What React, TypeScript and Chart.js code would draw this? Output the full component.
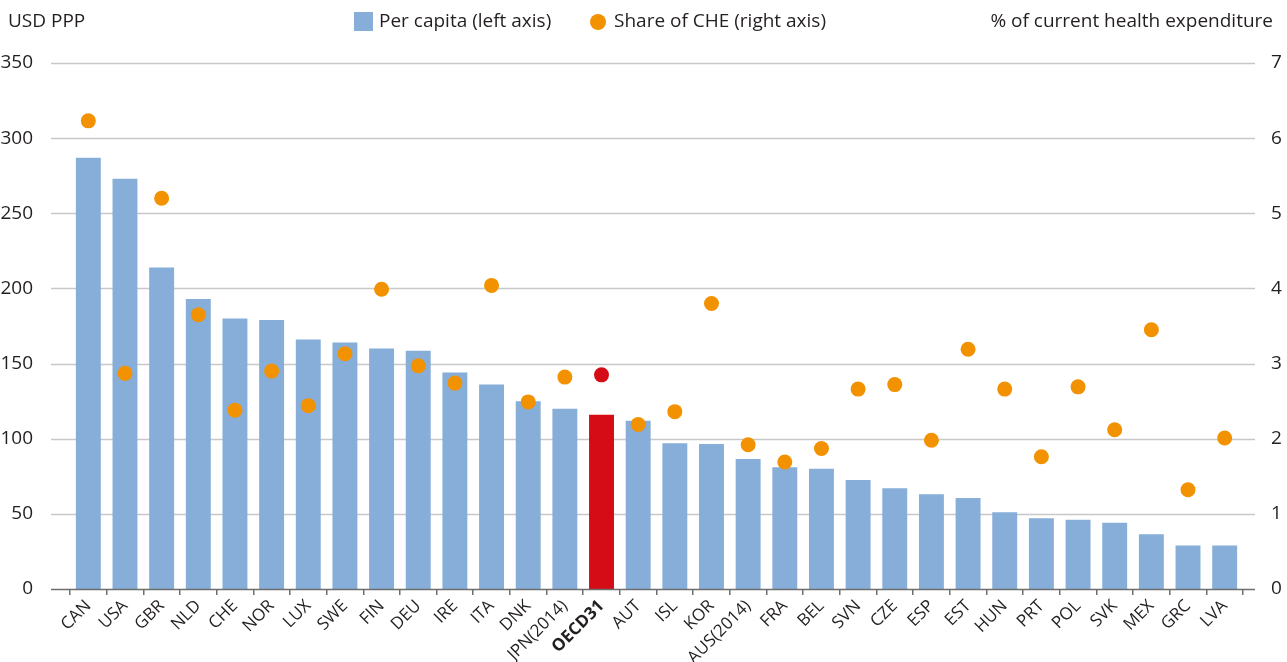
import React, { useEffect, useRef } from 'react';
import { Chart, registerables } from 'chart.js';

Chart.register(...registerables);

const categories = ['CAN','USA','GBR','NLD','CHE','NOR','LUX','SWE','FIN','DEU','IRE','ITA','DNK','JPN(2014)','OECD31','AUT','ISL','KOR','AUS(2014)','FRA','BEL','SVN','CZE','ESP','EST','HUN','PRT','POL','SVK','MEX','GRC','LVA'];
const perCapita = [287,273,214,193,180,179,166,164,160,158.5,144,136,125,120,116,112,97,96.5,86.5,81,80,72.5,67,63,60.5,51,47,46,44,36.5,29,29];
const shareCHE = [6.23,2.87,5.2,3.65,2.38,2.9,2.44,3.13,3.99,2.97,2.74,4.04,2.49,2.82,2.85,2.19,2.36,3.8,1.92,1.69,1.87,2.66,2.72,1.98,3.19,2.66,1.76,2.69,2.12,3.45,1.32,2.01];
const leftAxis = { min: 0, max: 350, step: 50 };
const rightAxis = { min: 0, max: 7, step: 1 };
const highlight = 'OECD31';

const BLUE = '#86aed8';
const RED = '#d50c15';
const ORANGE = '#f39200';
const TEXT = '#231f20';
const GRID = '#c8c8c8';
const AXIS = '#6e6e6e';
const FONT = '"Open Sans", "Noto Sans", sans-serif';

const overlayPlugin = {
  id: 'overlay',
  beforeDatasetsDraw(chart: any) {
    const { ctx, chartArea, scales } = chart;
    const y = scales.y;
    const x0 = chartArea.left - 19;
    const x1 = chartArea.right + 12;
    ctx.save();
    for (let v = leftAxis.min + leftAxis.step; v <= leftAxis.max; v += leftAxis.step) {
      const py = Math.round(y.getPixelForValue(v)) + 0.5;
      ctx.strokeStyle = GRID;
      ctx.lineWidth = 1.5;
      ctx.beginPath();
      ctx.moveTo(x0, py);
      ctx.lineTo(x1, py);
      ctx.stroke();
    }
    ctx.restore();
  },
  afterDatasetsDraw(chart: any) {
    const { ctx, chartArea, scales } = chart;
    const y = scales.y;
    const x0 = chartArea.left - 19;
    const x1 = chartArea.right + 12;
    ctx.save();
    const py = Math.round(y.getPixelForValue(0)) + 0.5;
    ctx.strokeStyle = AXIS;
    ctx.lineWidth = 1.5;
    ctx.beginPath();
    ctx.moveTo(x0, py);
    ctx.lineTo(x1, py);
    ctx.stroke();
    ctx.restore();
  },
  afterDraw(chart: any) {
    const { ctx } = chart;
    ctx.save();
    ctx.fillStyle = TEXT;
    ctx.font = `19px ${FONT}`;
    ctx.textBaseline = 'middle';
    ctx.textAlign = 'left';
    ctx.fillText('USD PPP', 8, 22);
    ctx.textAlign = 'right';
    ctx.fillText('% of current health expenditure', 1273, 22);
    // legend
    ctx.textAlign = 'left';
    const ds = chart.data.datasets;
    ctx.fillStyle = BLUE;
    ctx.fillRect(354, 12, 19, 19);
    ctx.fillStyle = TEXT;
    ctx.fillText(ds[0].label, 379, 22);
    ctx.fillStyle = ORANGE;
    ctx.beginPath();
    ctx.arc(598, 22, 8, 0, Math.PI * 2);
    ctx.fill();
    ctx.fillStyle = TEXT;
    ctx.fillText(ds[1].label, 614, 22);
    ctx.restore();
  },
};

export default function App() {
  const ref = useRef<HTMLCanvasElement | null>(null);
  useEffect(() => {
    document.body.style.margin = '0';
    const canvas = ref.current;
    if (!canvas) return;
    const chart = new Chart(canvas, {
      type: 'bar',
      data: {
        labels: categories,
        datasets: [
          {
            type: 'bar',
            label: 'Per capita (left axis)',
            data: perCapita,
            yAxisID: 'y',
            backgroundColor: categories.map((c) => (c === highlight ? RED : BLUE)),
            borderWidth: 0,
            barPercentage: 0.68,
            categoryPercentage: 1,
            order: 1,
          },
          {
            type: 'line',
            label: 'Share of CHE (right axis)',
            data: shareCHE,
            yAxisID: 'y1',
            showLine: false,
            pointRadius: 7.5,
            pointBorderWidth: 0,
            pointBackgroundColor: categories.map((c) => (c === highlight ? RED : ORANGE)),
            pointBorderColor: categories.map((c) => (c === highlight ? RED : ORANGE)),
            order: 0,
          } as any,
        ],
      },
      options: {
        responsive: false,
        animation: false,
        devicePixelRatio: 1,
        layout: { padding: { top: 63, left: 0, right: 0, bottom: 0 } },
        plugins: { legend: { display: false }, tooltip: { enabled: false } },
        scales: {
          x: {
            offset: true,
            afterFit: (s: any) => { s.height = 73; },
            grid: { display: true, drawOnChartArea: false, offset: true, tickLength: 6, color: AXIS, lineWidth: 1.5 },
            border: { display: false },
            ticks: {
              autoSkip: false,
              minRotation: 45,
              maxRotation: 45,
              padding: 1,
              color: TEXT,
              font: (ctx: any) => ({ family: FONT, size: 17, weight: categories[ctx.index] === highlight ? 'bold' : 'normal' }),
            },
          },
          y: {
            position: 'left',
            min: leftAxis.min,
            max: leftAxis.max,
            afterFit: (s: any) => { s.width = 70; },
            grid: { display: false },
            border: { display: false },
            ticks: { stepSize: leftAxis.step, padding: 29, color: TEXT, font: { family: FONT, size: 19 } },
          },
          y1: {
            position: 'right',
            min: rightAxis.min,
            max: rightAxis.max,
            afterFit: (s: any) => { s.width = 44; },
            grid: { display: false },
            border: { display: false },
            ticks: { stepSize: rightAxis.step, padding: 20, color: TEXT, font: { family: FONT, size: 19 } },
          },
        },
      },
      plugins: [overlayPlugin],
    });
    return () => chart.destroy();
  }, []);
  return (
    <div style={{ width: 1287, height: 662 }}>
      <canvas ref={ref} width={1287} height={662} />
    </div>
  );
}
